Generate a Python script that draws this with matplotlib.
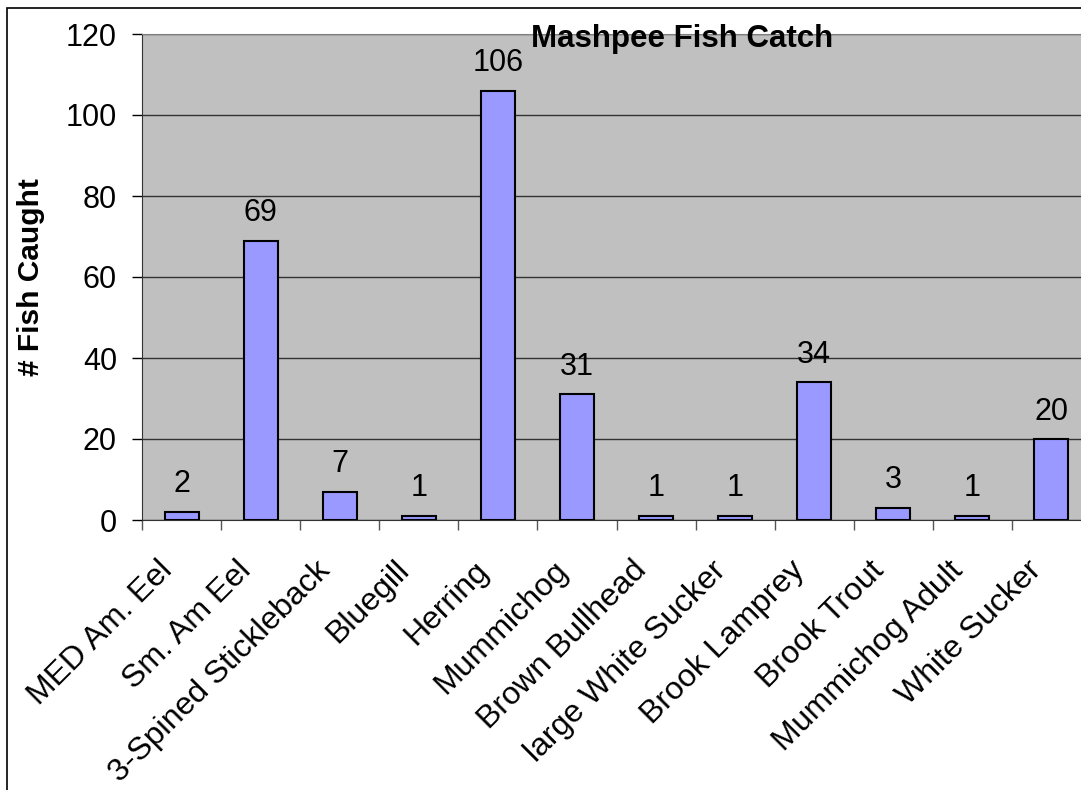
import matplotlib.pyplot as plt
from matplotlib.patches import Rectangle
from matplotlib.transforms import ScaledTranslation

plt.rcParams['font.family'] = ['Liberation Sans', 'DejaVu Sans']

species = ['MED Am. Eel', 'Sm. Am Eel', '3-Spined Stickleback', 'Bluegill',
           'Herring', 'Mummichog', 'Brown Bullhead', 'large White Sucker',
           'Brook Lamprey', 'Brook Trout', 'Mummichog Adult', 'White Sucker']
caught = [2, 69, 7, 1, 106, 31, 1, 1, 34, 3, 1, 20]
y_ticks = [0, 20, 40, 60, 80, 100, 120]

W, H = 1081, 790
fig = plt.figure(figsize=(W / 100, H / 100), dpi=100)

# chart border (runs off the right and bottom edges)
fig.patches.append(Rectangle((7 / W, -0.1), 1.2, 1 - 8 / H + 0.1,
                             transform=fig.transFigure, fill=False,
                             edgecolor='black', linewidth=1.2))

# plot area runs slightly past the right edge
ax = fig.add_axes([142 / W, 270 / H, 949 / W, 486 / H])
ax.set_facecolor('#C0C0C0')

x = range(len(species))
bars = ax.bar(x, caught, width=0.43, color='#9999FF', edgecolor='black',
              linewidth=1.5, zorder=3)

for xi, v in zip(x, caught):
    ax.annotate(str(v), (xi, v), xytext=(0, 9), textcoords='offset points',
                ha='center', va='bottom', fontsize=22)

ax.set_xlim(-0.5, len(species) - 0.5)
ax.set_ylim(0, 120)
ax.set_yticks(y_ticks)
ax.yaxis.grid(True, color='#333333', linewidth=1.0, zorder=1)
ax.tick_params(axis='y', labelsize=22, length=7, width=1, pad=11)

ax.set_xticks([i - 0.5 for i in range(len(species) + 1)], minor=True)
ax.set_xticks(list(x))
ax.set_xticklabels(species, rotation=45, ha='right', va='center',
                   rotation_mode='anchor', fontsize=23)
ax.tick_params(axis='x', which='major', length=0, pad=33)
ax.tick_params(axis='x', which='minor', length=7, width=1, color='#555555')
shift = ScaledTranslation(-14 / 100, 0, fig.dpi_scale_trans)
for lbl in ax.get_xticklabels():
    lbl.set_transform(lbl.get_transform() + shift)

for side in ['top', 'right']:
    ax.spines[side].set_color('#808080')
ax.spines['left'].set_color('#333333')
ax.spines['bottom'].set_color('#333333')

ax.set_ylabel('# Fish Caught', fontsize=21.5, fontweight='bold', labelpad=15)
fig.text(682 / W, 1 - 39 / H, 'Mashpee Fish Catch', ha='center',
         va='center', fontsize=22.5, fontweight='bold')

fig.savefig('out.png', dpi=100)
